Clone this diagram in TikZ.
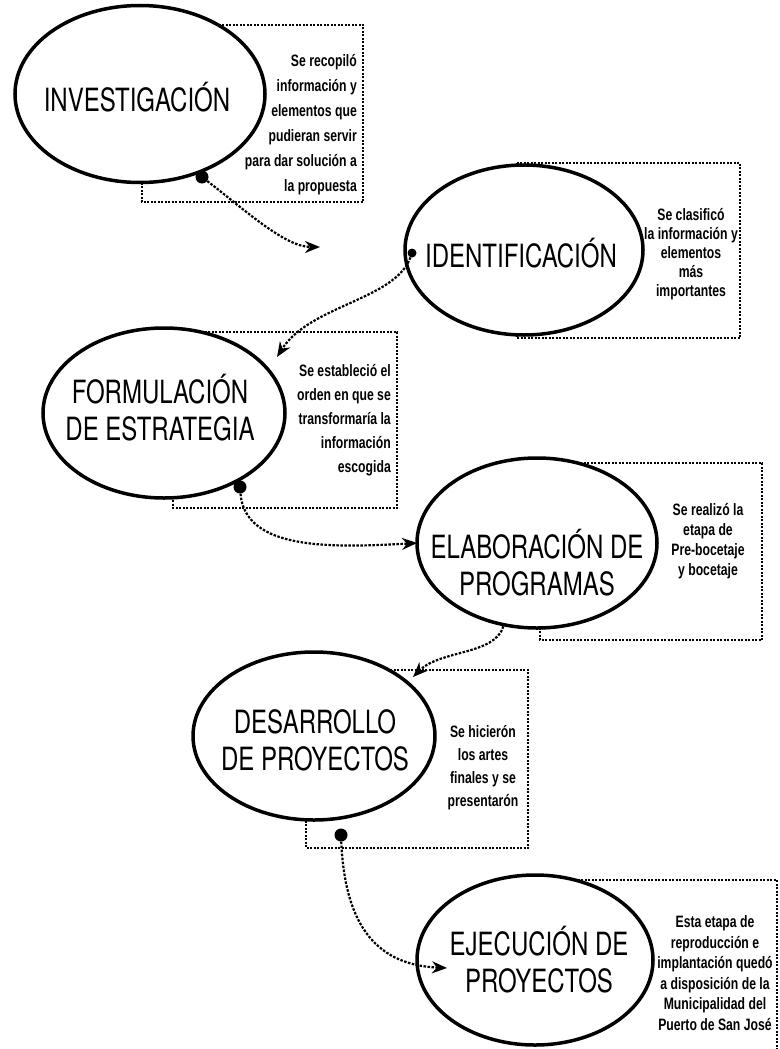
\documentclass[tikz,border=0pt]{standalone}
\usepackage{fontspec}
\newfontfamily\ovalfont[FakeStretch=0.75]{TeX Gyre Heros}
\newfontfamily\notefont[FakeStretch=0.74]{Liberation Sans}
\usetikzlibrary{shapes.geometric, arrows.meta}
\tikzset{
  oval/.style={ellipse, draw=black, line width=3.5pt, fill=white, inner sep=0pt},
  ovaltext/.style={align=center, inner sep=0pt, font=\ovalfont\fontsize{32}{37}\selectfont},
  notebox/.style={draw=black, line width=1.3pt, dash pattern=on 2pt off 1.5pt},
  notetext/.style={inner sep=0pt, font=\notefont\bfseries\fontsize{16.5}{#1}\selectfont},
  notetext/.default=20,
  linkarrow/.style={-{Stealth[length=15pt, width=12pt]}, line width=2.2pt,
                    dash pattern=on 2.5pt off 1.5pt},
  startdot/.style={circle, fill=black, inner sep=0pt, minimum size=13pt},
}
\begin{document}
\begin{tikzpicture}[x=1pt, y=-1pt]
  \useasboundingbox (0,0) rectangle (779,1049);

  % dotted note frames
  \draw[notebox] (142,25) rectangle (363,202);
  \draw[notebox] (517,163) rectangle (740,338);
  \draw[notebox] (173,332) rectangle (397,508);
  \draw[notebox] (540,463) rectangle (762,640);
  \draw[notebox] (306,670) rectangle (528,848);
  \draw[notebox] (560,880) -- (777,880) -- (777,1049);

  % stages
  \node[oval, minimum width=250pt, minimum height=177pt] (e1) at (140,94) {};
  \node[oval, minimum width=238pt, minimum height=170pt] (e2) at (524,250) {};
  \node[oval, minimum width=242pt, minimum height=170pt] (e3) at (164,413) {};
  \node[oval, minimum width=240pt, minimum height=170pt] (e4) at (537,543) {};
  \node[oval, minimum width=242pt, minimum height=168pt] (e5) at (314,736) {};
  \node[oval, minimum width=236pt, minimum height=170pt] (e6) at (535,960) {};

  \node[ovaltext] (e1t) at (137,97)  {INVESTIGACIÓN};
  \node[ovaltext] (e2t) at (521,253) {IDENTIFICACIÓN};
  \node[ovaltext] (e3t) at (160,408) {FORMULACIÓN\\DE ESTRATEGIA};
  \node[ovaltext] (e4t) at (537,563) {ELABORACIÓN DE\\PROGRAMAS};
  \node[ovaltext] (e5t) at (315,740) {DESARROLLO\\DE PROYECTOS};
  \node[ovaltext] (e6t) at (539,960) {EJECUCIÓN DE\\PROYECTOS};

  % notes
  \node[notetext=25, align=right, anchor=east] (n1) at (357,125)
    {Se recopiló\\información y\\elementos que\\pudieran servir\\para dar solución a\\la propuesta};
  \node[notetext=19, align=center] (n2) at (691,254)
    {Se clasificó\\la información y\\elementos\\más\\importantes};
  \node[notetext=24, align=right, anchor=east] (n3) at (391,420)
    {Se estableció el\\orden en que se\\transformaría la\\información\\escogida};
  \node[notetext=20, align=center] (n4) at (708,541)
    {Se realizó la\\etapa de\\Pre-bocetaje\\y bocetaje};
  \node[notetext=23, align=center] (n5) at (483,768)
    {Se hicierón\\los artes\\finales y se\\presentarón};
  \node[notetext=20.5, align=center] (n6) at (715,973)
    {Esta etapa de\\reproducción e\\implantación quedó\\a disposición de la\\Municipalidad del\\Puerto de San José};

  % connectors
  \node[startdot] (d1) at (202,177) {};
  \node[startdot, minimum size=9pt] (d2) at (412,253) {};
  \node[startdot] (d3) at (240,487) {};
  \node[startdot] (d5) at (341,835) {};
  \coordinate (a1) at (320,247);
  \coordinate (a2) at (277,357);
  \coordinate (a3) at (417,543);
  \coordinate (a4) at (413,677);
  \coordinate (a5) at (447,968);

  \draw[linkarrow] (d1) .. controls (245,210) and (285,247) .. (a1);
  \draw[linkarrow] (d2) .. controls (395,300) and (310,305) .. (a2);
  \draw[linkarrow] (d3) .. controls (245,550) and (330,548) .. (a3);
  \draw[linkarrow] (e4.248) .. controls (495,655) and (440,650) .. (a4);
  \draw[linkarrow] (d5) .. controls (345,930) and (380,965) .. (a5);
\end{tikzpicture}
\end{document}
